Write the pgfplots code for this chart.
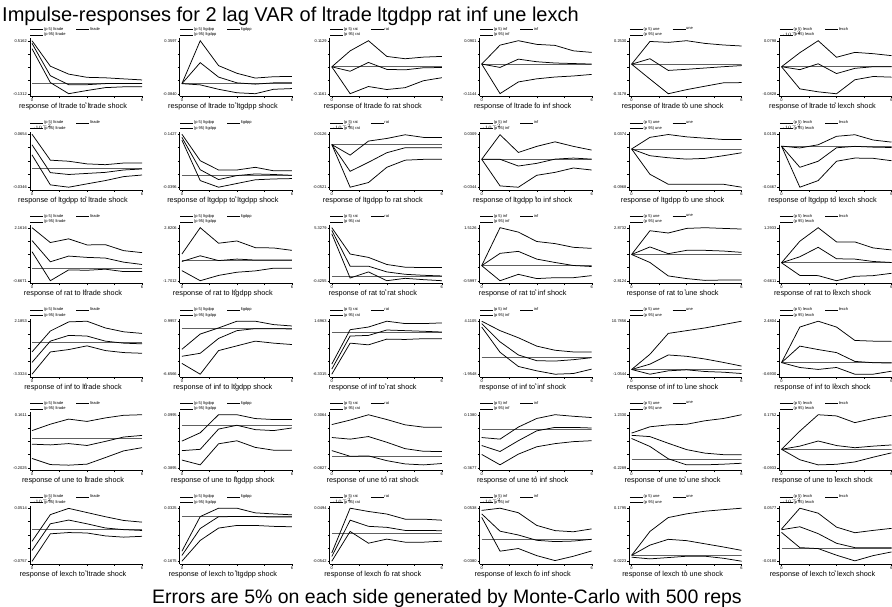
\documentclass[border=0pt]{standalone}
\usepackage{fontspec}
\setmainfont{Liberation Sans}
\usepackage{pgfplots}
\pgfplotsset{compat=1.18}
\pgfplotsset{
  irfbase/.style={
    scale only axis, width=112.2pt, height=58.3pt,
    xmin=-0.12, xmax=6,
    axis lines*=left,
    axis line style={black, line width=0.5pt, -},
    tick align=outside,
    major tick length=2pt, minor tick length=2pt,
    tick style={black, line width=0.4pt},
    xtick={0,6}, xticklabels={0,6},
    minor x tick num=3, minor y tick num=3,
    ticklabel style={font=\fontsize{4}{4}\selectfont, inner sep=0.8pt},
    xticklabel style={inner sep=0.3pt},
    xlabel={s},
    xlabel style={at={(0.5,0)}, anchor=center, yshift=-7.3pt, inner sep=0pt, font=\fontsize{3.4}{3.4}\selectfont},
    title style={at={(0.385,0)}, anchor=center, yshift=-16.4pt, inner sep=0pt, font=\fontsize{7.3}{8}\selectfont},
    legend columns=2,
    legend style={at={(0,1)}, anchor=south west, yshift=0.3pt, draw=none, fill=none, inner sep=0pt,
      font=\fontsize{4.0}{4.2}\selectfont,
      /tikz/every even column/.append style={column sep=10pt},
      row sep=0.6pt, nodes={inner sep=0.3pt}},
    legend image code/.code={\draw[##1] (0pt,0pt) -- (13pt,0pt);},
    legend cell align=left,
  },
  irf/.style n args={4}{irfbase,
    at={({29.8pt+149.9pt*(#1-1)},{-96.35pt-93.5pt*(#2-1)})}, anchor=south west,
    ytick={#3,#4}, yticklabels={#3,#4}},
  zero/.style={gray!75!black, line width=0.75pt, forget plot},
  ln/.style={black, line width=0.75pt},
}
\newcommand{\irfax}[9]{%
\pgfmathsetmacro\ylo{#3-0.05*(#4-(#3))}%
\pgfmathsetmacro\yhi{#4+0.05*(#4-(#3))}%
\begin{axis}[irf={#1}{#2}{#3}{#4}, ymin=\ylo, ymax=\yhi, title={response of #5 to #6 shock}]
\addplot[zero] coordinates {(0,0)(6,0)};
\addplot[ln] coordinates {#7}; \addlegendentry{(p 5) #6}
\addplot[ln] coordinates {#8}; \addlegendentry{#6}
\addplot[ln] coordinates {#9}; \addlegendentry{(p 95) #6}
\end{axis}}
\begin{document}
\begin{tikzpicture}
\useasboundingbox (0,0) rectangle (892pt,-606pt);
\node[anchor=base west, font=\fontsize{20}{22}\selectfont, inner sep=0pt] at (2pt,-21.5pt) {Impulse-responses for 2 lag VAR of ltrade ltgdpp rat inf une lexch};
\node[anchor=base, font=\fontsize{19.5}{22}\selectfont, inner sep=0pt] at (447pt,-603pt) {Errors are 5\% on each side generated by Monte-Carlo with 500 reps};
% ---------- row 1: response of ltrade
\irfax{1}{1}{-0.1312}{0.5162}{ltrade}{ltrade}
{(0,0.419)(1,0.005)(2,-0.131)(3,-0.092)(4,-0.057)(5,-0.047)(6,-0.047)}
{(0,0.484)(1,0.089)(2,-0.021)(3,-0.021)(4,-0.008)(5,-0.008)(6,-0.008)}
{(0,0.516)(1,0.205)(2,0.108)(3,0.069)(4,0.063)(5,0.050)(6,0.037)}
\irfax{2}{1}{-0.0840}{0.3597}{ltrade}{ltgdpp}
{(0,0)(1,-0.010)(2,-0.047)(3,-0.076)(4,-0.084)(5,-0.047)(6,-0.041)}
{(0,0)(1,0.176)(2,0.055)(3,0.007)(4,-0.004)(5,0.007)(6,0.007)}
{(0,0)(1,0.3597)(2,0.151)(3,0.087)(4,0.047)(5,0.058)(6,0.061)}
\irfax{3}{1}{-0.1161}{0.1129}{ltrade}{rat}
{(0,0)(1,-0.116)(2,-0.085)(3,-0.098)(4,-0.090)(5,-0.060)(6,-0.047)}
{(0,0)(1,-0.019)(2,0.019)(3,-0.011)(4,-0.013)(5,-0.004)(6,-0.003)}
{(0,0)(1,0.069)(2,0.1129)(3,0.045)(4,0.035)(5,0.042)(6,0.045)}
\irfax{4}{1}{-0.1144}{0.0901}{ltrade}{inf}
{(0,0)(1,-0.114)(2,-0.069)(3,-0.057)(4,-0.050)(5,-0.046)(6,-0.040)}
{(0,0)(1,-0.013)(2,0.019)(3,0.009)(4,0.004)(5,0.002)(6,0.0)}
{(0,0)(1,0.073)(2,0.0901)(3,0.076)(4,0.072)(5,0.051)(6,0.045)}
\irfax{5}{1}{-0.3178}{0.2530}{ltrade}{une}
{(0,0)(1,-0.160)(2,-0.318)(3,-0.274)(4,-0.237)(5,-0.201)(6,-0.198)}
{(0,0)(1,0.059)(2,-0.067)(3,-0.055)(4,-0.041)(5,-0.027)(6,-0.015)}
{(0,0)(1,0.245)(2,0.235)(3,0.253)(4,0.224)(5,0.207)(6,0.196)}
\irfax{6}{1}{-0.0828}{0.0798}{ltrade}{lexch}
{(0,0)(1,-0.068)(2,-0.077)(3,-0.083)(4,-0.040)(5,-0.030)(6,-0.032)}
{(0,0)(1,-0.009)(2,0.009)(3,-0.021)(4,-0.005)(5,0.0)(6,0.0)}
{(0,0)(1,0.043)(2,0.0798)(3,0.029)(4,0.044)(5,0.040)(6,0.034)}
% ---------- row 2: response of ltgdpp
\irfax{1}{2}{-0.0346}{0.0654}{ltgdpp}{ltrade}
{(0,0.0264)(1,-0.0302)(2,-0.0346)(3,-0.0283)(4,-0.0221)(5,-0.0146)(6,-0.0116)}
{(0,0.0454)(1,-0.0071)(2,-0.0106)(3,-0.0086)(4,-0.0066)(5,-0.0021)(6,-0.0002)}
{(0,0.0654)(1,0.0164)(2,0.0144)(3,0.0094)(4,0.0079)(5,0.0110)(6,0.0110)}
\irfax{2}{2}{-0.0396}{0.1427}{ltgdpp}{ltgdpp}
{(0,0.1226)(1,-0.0168)(2,-0.0396)(3,-0.0268)(4,-0.0141)(5,-0.0112)(6,-0.0099)}
{(0,0.1318)(1,0.0206)(2,-0.0133)(3,0.0005)(4,0.0060)(5,0.0042)(6,0.0014)}
{(0,0.1427)(1,0.0516)(2,0.0196)(3,0.0196)(4,0.0288)(5,0.0169)(6,0.0169)}
\irfax{3}{2}{-0.0521}{0.0126}{ltgdpp}{rat}
{(0,0)(1,-0.0521)(2,-0.0464)(3,-0.0278)(4,-0.0191)(5,-0.0181)(6,-0.0181)}
{(0,0)(1,-0.0327)(2,-0.0217)(3,-0.0100)(4,-0.0039)(5,-0.0039)(6,-0.0039)}
{(0,0)(1,-0.0129)(2,0.0042)(3,0.0074)(4,0.0119)(5,0.0087)(6,0.0087)}
\irfax{4}{2}{-0.0344}{0.0309}{ltgdpp}{inf}
{(0,0)(1,-0.0328)(2,-0.0344)(3,-0.0197)(4,-0.0161)(5,-0.0107)(6,-0.0132)}
{(0,0)(1,0.0)(2,-0.0083)(3,-0.0050)(4,0.0002)(5,0.0015)(6,0.0002)}
{(0,0)(1,0.0303)(2,0.0084)(3,0.0159)(4,0.0215)(5,0.0159)(6,0.0113)}
\irfax{5}{2}{-0.0968}{0.0374}{ltgdpp}{une}
{(0,0)(1,-0.0641)(2,-0.0893)(3,-0.0893)(4,-0.0893)(5,-0.0893)(6,-0.0968)}
{(0,0)(1,-0.0171)(2,-0.0222)(3,-0.0257)(4,-0.0238)(5,-0.0171)(6,-0.0096)}
{(0,0)(1,0.0294)(2,0.0366)(3,0.0307)(4,0.0273)(5,0.0240)(6,0.0240)}
\irfax{6}{2}{-0.0467}{0.0135}{ltgdpp}{lexch}
{(0,0)(1,-0.0467)(2,-0.0392)(3,-0.0172)(4,-0.0136)(5,-0.0139)(6,-0.0166)}
{(0,0)(1,-0.0241)(2,-0.0172)(3,-0.0019)(4,-0.0003)(5,-0.0012)(6,-0.0016)}
{(0,0)(1,-0.0021)(2,0.0015)(3,0.0111)(4,0.0129)(5,0.0069)(6,0.0045)}
% ---------- row 3: response of rat
\irfax{1}{3}{-0.6671}{2.1616}{rat}{ltrade}
{(0,0.883)(1,-0.667)(2,-0.090)(3,-0.110)(4,-0.053)(5,-0.181)(6,-0.181)}
{(0,1.477)(1,0.343)(2,0.648)(3,0.578)(4,0.541)(5,0.323)(6,0.199)}
{(0,2.162)(1,1.370)(2,1.568)(3,1.242)(4,1.257)(5,0.937)(6,0.832)}
\irfax{2}{3}{-1.7012}{2.8206}{rat}{ltgdpp}
{(0,-0.842)(1,-1.701)(2,-1.249)(3,-0.978)(4,-0.865)(5,-0.634)(6,-0.634)}
{(0,-0.060)(1,0.424)(2,0.017)(3,0.144)(4,0.062)(5,0.062)(6,0.062)}
{(0,0.573)(1,2.821)(2,1.496)(3,1.690)(4,1.120)(5,1.093)(6,0.890)}
\irfax{3}{3}{-0.4255}{5.3279}{rat}{rat}
{(0,4.666)(1,-0.138)(2,0.530)(3,-0.426)(4,-0.167)(5,-0.310)(6,-0.426)}
{(0,5.040)(1,1.151)(2,1.151)(3,0.530)(4,0.271)(5,0.161)(6,0.092)}
{(0,5.328)(1,2.468)(2,2.106)(3,1.335)(4,1.042)(5,1.001)(6,1.001)}
\irfax{4}{3}{-0.5997}{1.5126}{rat}{inf}
{(0,0)(1,-0.600)(2,-0.346)(3,-0.515)(4,-0.479)(5,-0.479)(6,-0.397)}
{(0,0)(1,0.490)(2,0.570)(3,0.262)(4,0.127)(5,0.006)(6,-0.034)}
{(0,0)(1,1.513)(2,1.337)(3,0.963)(4,0.879)(5,0.731)(6,0.689)}
\irfax{5}{3}{-2.8124}{2.8732}{rat}{une}
{(0,0)(1,-0.857)(2,-2.301)(3,-2.585)(4,-2.778)(5,-2.738)(6,-2.738)}
{(0,0)(1,0.809)(2,0.087)(3,0.445)(4,0.445)(5,0.371)(6,0.229)}
{(0,0)(1,2.549)(2,2.305)(3,2.799)(4,2.873)(5,2.799)(6,2.731)}
\irfax{6}{3}{-0.6611}{1.2933}{rat}{lexch}
{(0,0)(1,-0.466)(2,-0.474)(3,-0.661)(4,-0.499)(5,-0.474)(6,-0.388)}
{(0,0)(1,0.222)(2,0.570)(3,0.148)(4,0.136)(5,0.048)(6,0.011)}
{(0,0)(1,0.795)(2,1.293)(3,0.770)(4,0.770)(5,0.547)(6,0.473)}
% ---------- row 4: response of inf
\irfax{1}{4}{-3.3324}{2.1853}{inf}{ltrade}
{(0,-3.332)(1,-1.015)(2,-0.767)(3,-0.380)(4,-0.872)(5,-1.081)(6,-1.153)}
{(0,-2.102)(1,0.111)(2,0.707)(3,0.640)(4,0.111)(5,-0.099)(6,-0.171)}
{(0,-1.015)(1,1.164)(2,2.114)(3,2.185)(4,1.484)(5,1.082)(6,0.916)}
\irfax{2}{4}{-6.6566}{0.9957}{inf}{ltgdpp}
{(0,-5.096)(1,-6.657)(2,-3.244)(3,-2.562)(4,-1.882)(5,-2.172)(6,-2.371)}
{(0,-4.070)(1,-3.634)(2,-1.491)(3,-0.366)(4,-0.076)(5,-0.076)(6,-0.129)}
{(0,-3.060)(1,-0.856)(2,0.024)(3,0.996)(4,0.996)(5,0.506)(6,0.307)}
\irfax{3}{4}{-6.3315}{1.6963}{inf}{rat}
{(0,-6.332)(1,-1.627)(2,-1.884)(3,-1.017)(4,-1.065)(5,-0.953)(6,-0.953)}
{(0,-5.561)(1,-0.552)(2,-0.455)(3,0.364)(4,0.267)(5,0.171)(6,0.059)}
{(0,-4.806)(1,0.412)(2,0.813)(3,1.696)(4,1.335)(5,1.335)(6,1.439)}
\irfax{4}{4}{-1.9548}{4.1105}{inf}{inf}
{(0,3.443)(1,0.556)(2,-1.069)(3,-1.567)(4,-1.955)(5,-1.876)(6,-1.372)}
{(0,3.837)(1,1.751)(2,0.247)(3,-0.408)(4,-0.451)(5,-0.293)(6,-0.062)}
{(0,4.111)(1,3.031)(2,2.218)(3,1.260)(4,0.786)(5,0.592)(6,0.592)}
\irfax{5}{4}{-1.0544}{10.7856}{inf}{une}
{(0,0)(1,-1.054)(2,-0.297)(3,-0.072)(4,-0.451)(5,-0.605)(6,-0.901)}
{(0,0)(1,1.195)(2,3.243)(3,2.947)(4,2.344)(5,1.586)(6,0.757)}
{(0,0)(1,3.397)(2,8.062)(3,8.678)(4,9.282)(5,10.028)(6,10.786)}
\irfax{6}{4}{-0.6930}{2.4804}{inf}{lexch}
{(0,0)(1,-0.290)(2,-0.407)(3,-0.290)(4,-0.693)(5,-0.693)(6,-0.512)}
{(0,0)(1,0.989)(2,0.783)(3,0.602)(4,0.075)(5,-0.004)(6,-0.027)}
{(0,0)(1,2.131)(2,2.480)(3,2.131)(4,1.329)(5,1.287)(6,1.287)}
% ---------- row 5: response of une
\irfax{1}{5}{-0.2025}{0.1611}{une}{ltrade}
{(0,-0.139)(1,-0.181)(2,-0.185)(3,-0.178)(4,-0.133)(5,-0.087)(6,-0.065)}
{(0,-0.041)(1,-0.046)(2,-0.037)(3,-0.050)(4,-0.022)(5,0.008)(6,0.019)}
{(0,0.052)(1,0.096)(2,0.131)(3,0.115)(4,0.139)(5,0.157)(6,0.161)}
\irfax{2}{5}{-0.3895}{0.0995}{une}{ltgdpp}
{(0,-0.319)(1,-0.363)(2,-0.169)(3,-0.141)(4,-0.202)(5,-0.228)(6,-0.228)}
{(0,-0.232)(1,-0.220)(2,-0.033)(3,0.002)(4,-0.038)(5,-0.047)(6,-0.023)}
{(0,-0.144)(1,-0.067)(2,0.0995)(3,0.0995)(4,0.064)(5,0.055)(6,0.055)}
\irfax{3}{5}{-0.0827}{0.3064}{une}{rat}
{(0,0.043)(1,0.001)(2,0.004)(3,-0.031)(4,-0.055)(5,-0.062)(6,-0.052)}
{(0,0.139)(1,0.127)(2,0.146)(3,0.104)(4,0.057)(5,0.038)(6,0.036)}
{(0,0.234)(1,0.267)(2,0.306)(3,0.271)(4,0.232)(5,0.215)(6,0.215)}
\irfax{4}{5}{-0.3677}{0.1380}{une}{inf}
{(0,-0.241)(1,-0.340)(2,-0.238)(3,-0.168)(4,-0.138)(5,-0.119)(6,-0.110)}
{(0,-0.156)(1,-0.213)(2,-0.110)(3,-0.016)(4,0.017)(5,0.017)(6,0.011)}
{(0,-0.080)(1,-0.095)(2,0.020)(3,0.102)(4,0.138)(5,0.123)(6,0.111)}
\irfax{5}{5}{-0.2289}{1.2330}{une}{une}
{(0,0.577)(1,0.357)(2,0.017)(3,-0.150)(4,-0.150)(5,-0.132)(6,-0.106)}
{(0,0.664)(1,0.629)(2,0.445)(3,0.270)(4,0.173)(5,0.131)(6,0.131)}
{(0,0.726)(1,0.900)(2,0.952)(3,0.970)(4,1.066)(5,1.128)(6,1.233)}
\irfax{6}{5}{-0.0933}{0.1752}{une}{lexch}
{(0,0)(1,-0.053)(2,-0.079)(3,-0.076)(4,-0.064)(5,-0.040)(6,-0.018)}
{(0,0)(1,0.016)(2,0.042)(3,0.019)(4,0.008)(5,0.016)(6,0.022)}
{(0,0)(1,0.092)(2,0.175)(3,0.169)(4,0.135)(5,0.156)(6,0.172)}
% ---------- row 6: response of lexch
\irfax{1}{6}{-0.0757}{0.0514}{lexch}{ltrade}
{(0,-0.076)(1,-0.010)(2,-0.007)(3,-0.008)(4,-0.015)(5,-0.018)(6,-0.016)}
{(0,-0.050)(1,0.014)(2,0.023)(3,0.014)(4,0.004)(5,0.0)(6,-0.002)}
{(0,-0.028)(1,0.036)(2,0.051)(3,0.041)(4,0.031)(5,0.022)(6,0.018)}
\irfax{2}{6}{-0.1675}{0.0325}{lexch}{ltgdpp}
{(0,-0.1675)(1,-0.089)(2,-0.0425)(3,-0.0325)(4,-0.0325)(5,-0.036)(6,-0.0375)}
{(0,-0.146)(1,-0.044)(2,0.0005)(3,0.001)(4,0.001)(5,-0.001)(6,-0.001)}
{(0,-0.130)(1,0.001)(2,0.0325)(3,0.0325)(4,0.015)(5,0.011)(6,0.0075)}
\irfax{3}{6}{-0.0542}{0.0494}{lexch}{rat}
{(0,-0.0542)(1,0.004)(2,-0.019)(3,-0.011)(4,-0.017)(5,-0.017)(6,-0.015)}
{(0,-0.045)(1,0.026)(2,0.014)(3,0.012)(4,0.006)(5,0.006)(6,0.0054)}
{(0,-0.038)(1,0.0494)(2,0.043)(3,0.038)(4,0.028)(5,0.028)(6,0.026)}
\irfax{4}{6}{-0.0380}{0.0538}{lexch}{inf}
{(0,0.038)(1,-0.0206)(2,-0.016)(3,-0.0283)(4,-0.0369)(5,-0.0294)(6,-0.0202)}
{(0,0.044)(1,0.014)(2,0.0074)(3,-0.0018)(4,-0.004)(5,-0.0031)(6,0.0)}
{(0,0.050)(1,0.0538)(2,0.046)(3,0.024)(4,0.015)(5,0.013)(6,0.018)}
\irfax{5}{6}{-0.0223}{0.1795}{lexch}{une}
{(0,-0.007)(1,-0.0134)(2,-0.0084)(3,-0.0033)(4,-0.0033)(5,-0.011)(6,-0.0223)}
{(0,0)(1,0.039)(2,0.061)(3,0.056)(4,0.044)(5,0.032)(6,0.019)}
{(0,0)(1,0.091)(2,0.144)(3,0.158)(4,0.168)(5,0.174)(6,0.1795)}
\irfax{6}{6}{-0.0180}{0.0577}{lexch}{lexch}
{(0,0.0232)(1,0.0014)(2,0.0)(3,-0.0094)(4,-0.0175)(5,-0.010)(6,-0.0048)}
{(0,0.027)(1,0.0312)(2,0.0214)(3,0.0076)(4,0.0014)(5,0.0014)(6,0.0014)}
{(0,0.0279)(1,0.0577)(2,0.0506)(3,0.0307)(4,0.0227)(5,0.026)(6,0.0289)}
\end{tikzpicture}
\end{document}
